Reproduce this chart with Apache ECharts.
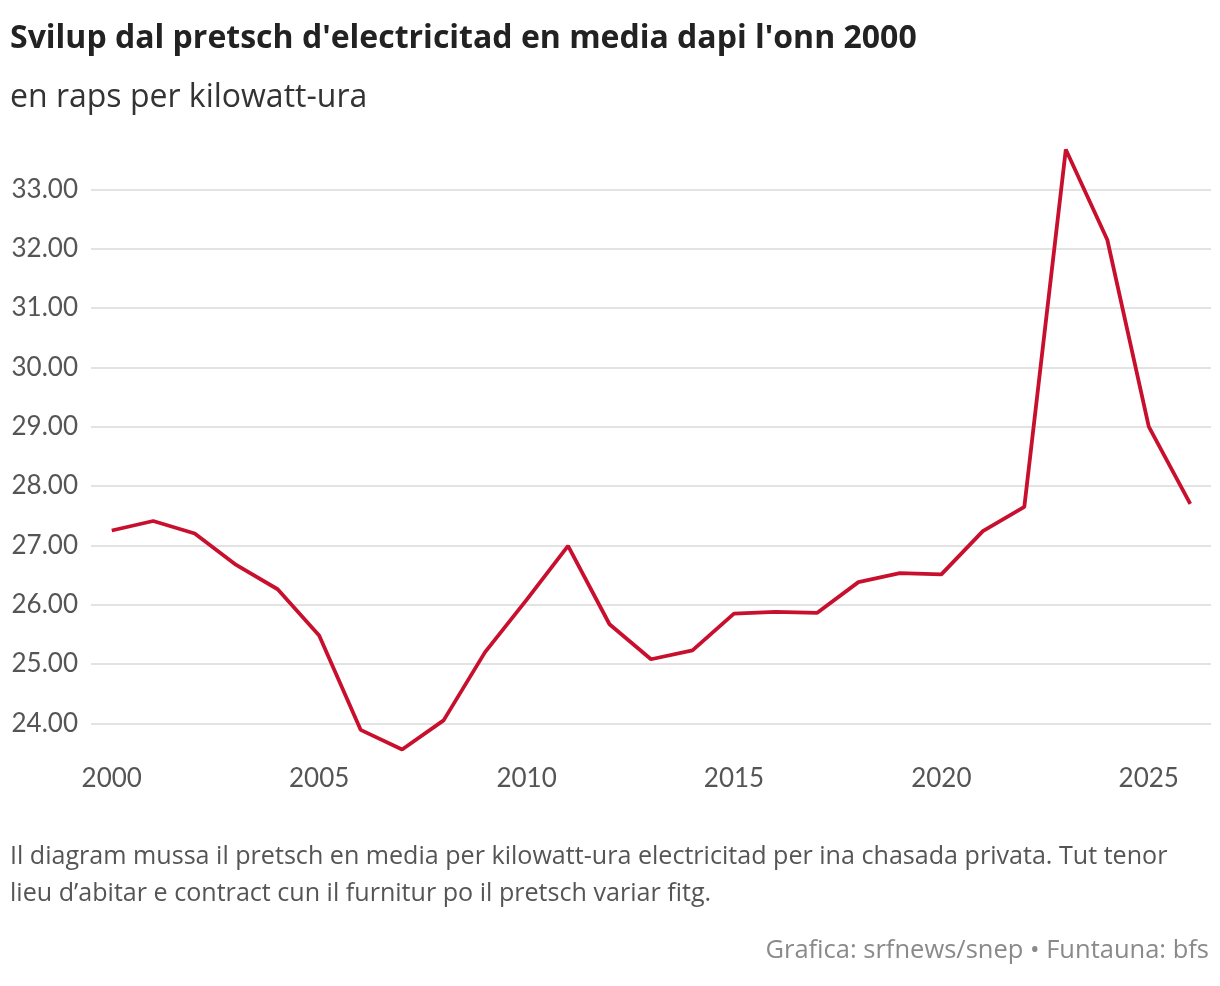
<!DOCTYPE html>
<html lang="rm">
<head>
    <meta charset="UTF-8">
    <title>Svilup dal pretsch d'electricitad</title>
    <script src="https://cdn.jsdelivr.net/npm/echarts@6/dist/echarts.min.js"></script>
    <style>
        html, body { margin: 0; padding: 0; background: #fff; }
        #main { width: 1220px; height: 986px; }
    </style>
</head>
<body>
    <div id="main"></div>
    <script>
        // data
        var years = ['2000', '2001', '2002', '2003', '2004', '2005', '2006', '2007', '2008', '2009',
            '2010', '2011', '2012', '2013', '2014', '2015', '2016', '2017', '2018', '2019',
            '2020', '2021', '2022', '2023', '2024', '2025', '2026'];
        var prices = [27.25, 27.41, 27.20, 26.67, 26.26, 25.48, 23.89, 23.56, 24.05, 25.20,
            26.08, 26.99, 25.67, 25.08, 25.23, 25.85, 25.88, 25.86, 26.38, 26.53,
            26.51, 27.24, 27.65, 33.67, 32.15, 29.00, 27.70];
        var yTicks = [24, 25, 26, 27, 28, 29, 30, 31, 32, 33];

        var tickFont = 'Lato, "Noto Sans", sans-serif';
        var textFont = '"Open Sans", "Noto Sans", sans-serif';
        var chart = echarts.init(document.getElementById('main'));

        var option = {
            animation: false,
            backgroundColor: '#fff',
            grid: {
                left: 91,
                right: 9,
                top: 130,
                bottom: 233
            },
            xAxis: {
                type: 'category',
                data: years,
                boundaryGap: true,
                axisLine: { show: false },
                axisTick: { show: false },
                axisLabel: {
                    interval: 4,
                    margin: 13,
                    color: '#555',
                    fontFamily: tickFont,
                    fontSize: 26
                }
            },
            yAxis: {
                type: 'value',
                min: 23.5,
                max: 34,
                axisLine: { show: false },
                axisTick: { show: false, customValues: yTicks },
                axisLabel: {
                    customValues: yTicks,
                    margin: 13,
                    color: '#555',
                    fontFamily: tickFont,
                    fontSize: 26,
                    formatter: function (v) { return v.toFixed(2); }
                },
                splitLine: {
                    lineStyle: { color: '#e3e3e3', width: 2 }
                }
            },
            series: [{
                type: 'line',
                data: prices,
                showSymbol: false,
                lineStyle: { color: '#c8102e', width: 3.8 },
                itemStyle: { color: '#c8102e' }
            }],
            graphic: [
                {
                    type: 'text', left: 10, top: 23,
                    style: {
                        text: "Svilup dal pretsch d'electricitad en media dapi l'onn 2000",
                        font: 'bold 32px ' + textFont, fill: '#222'
                    }
                },
                {
                    type: 'text', left: 10, top: 82,
                    style: {
                        text: 'en raps per kilowatt-ura',
                        font: '32px ' + textFont, fill: '#333'
                    }
                },
                {
                    type: 'text', left: 10, top: 838,
                    style: {
                        text: 'Il diagram mussa il pretsch en media per kilowatt-ura electricitad per ina chasada privata. Tut tenor\nlieu d\u2019abitar e contract cun il furnitur po il pretsch variar fitg.',
                        font: '25.1px ' + textFont, fill: '#555', lineHeight: 37
                    }
                },
                {
                    type: 'text', right: 11, top: 938,
                    style: {
                        text: 'Grafica: srfnews/snep \u2022 Funtauna: bfs',
                        font: '25.5px ' + textFont, fill: '#8a8a8a'
                    }
                }
            ]
        };

        chart.setOption(option);
    </script>
</body>
</html>
